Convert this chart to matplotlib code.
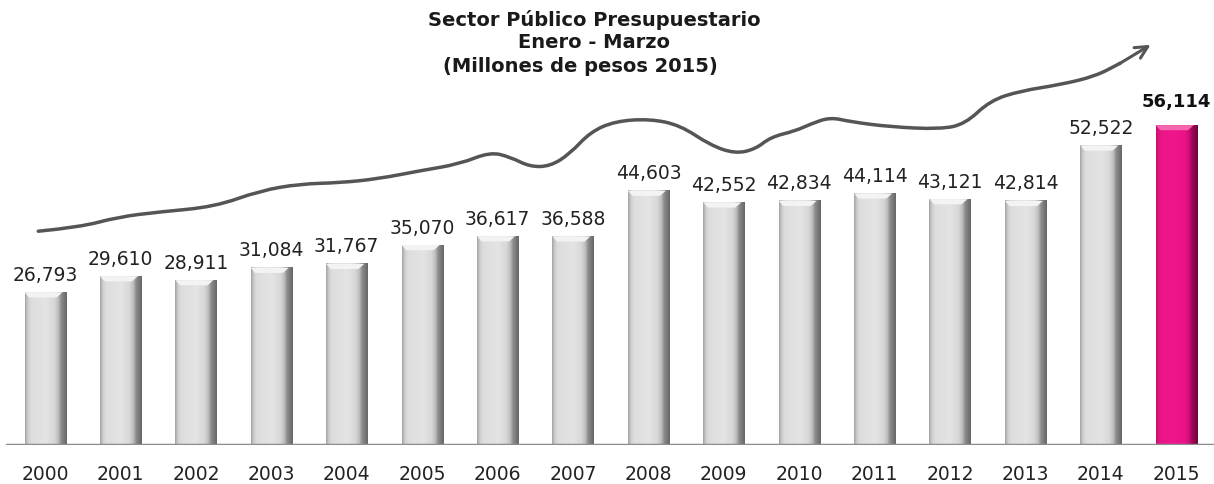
import numpy as np
import matplotlib.pyplot as plt
from matplotlib.colors import LinearSegmentedColormap
from matplotlib.path import Path
from matplotlib.patches import PathPatch

#------------------------------------------------------------------------------
# Data
#------------------------------------------------------------------------------

years = ['2000', '2001', '2002', '2003', '2004', '2005', '2006', '2007',
         '2008', '2009', '2010', '2011', '2012', '2013', '2014', '2015']
values = [26793, 29610, 28911, 31084, 31767, 35070, 36617, 36588,
          44603, 42552, 42834, 44114, 43121, 42814, 52522, 56114]

# decorative trend curve (x in bar index, y in millions)
trend_x = [-0.09, 0.46, 0.97, 1.53, 2.25, 2.85, 3.38, 3.91, 4.42, 4.97, 5.50,
           5.90, 6.17, 6.43, 6.70, 6.96, 7.23, 7.56, 8.02, 8.42, 8.82, 9.15,
           9.42, 9.62, 9.95, 10.15, 10.41, 10.68, 11.21, 11.87, 12.20, 12.53,
           12.93, 13.46, 13.93, 14.26]
trend_y = [37500, 38200, 40000, 40900, 41800, 44600, 45800, 46000, 46700,
           48100, 49300, 51400, 50500, 48800, 48900, 51100, 54900, 56800,
           57200, 56100, 52600, 51100, 51900, 54000, 55100, 56300, 57500,
           56700, 55800, 55400, 56300, 60400, 62100, 63200, 64700, 67000]
arrow_tip = (14.66, 70200)

#------------------------------------------------------------------------------
# Plot
#------------------------------------------------------------------------------

plt.rcParams['font.family'] = ['DejaVu Sans']

fig = plt.figure(figsize=(12.14, 4.85), dpi=100)
ax = fig.add_axes([0.005, 0.0804, 0.995, 0.8816])
ax.set_xlim(-0.517, 15.50)
ax.set_ylim(0, 75000)
ax.axis('off')

w = 0.545
gray = LinearSegmentedColormap.from_list('g', [
    (0.0, '#a4a4a4'), (0.07, '#cfcfcf'), (0.14, '#dddddd'), (0.5, '#e4e4e4'),
    (0.7, '#d8d8d8'), (0.8, '#bdbdbd'), (0.86, '#8e8e8e'), (1.0, '#666666')])
pink = LinearSegmentedColormap.from_list('p', [
    (0.0, '#c4106f'), (0.07, '#e41285'), (0.14, '#ee1489'), (0.5, '#f0148b'),
    (0.7, '#e81387'), (0.8, '#c80f74'), (0.86, '#9c0a58'), (1.0, '#6a0640')])
grad = np.linspace(0, 1, 128).reshape(1, -1)

for i, v in enumerate(values):
    last = i == len(values) - 1
    cm = pink if last else gray
    ax.imshow(grad, cmap=cm, aspect='auto', extent=(i - w/2, i + w/2, 0, v),
              interpolation='bilinear', zorder=2)
    # top bevel highlight
    hl = '#f3f3f3' if not last else '#f466ae'
    ax.fill([i - w/2, i - w/2 + 0.06, i + w/2 - 0.12, i + w/2 - 0.04],
            [v, v - 900, v - 900, v], color=hl, lw=0, zorder=3)
    lab = f'{v:,}'
    if last:
        ax.text(i, v + 2600, lab, ha='center', va='bottom', fontsize=13,
                fontweight='bold', color='#111111')
    else:
        ax.text(i, v + 1500, lab, ha='center', va='bottom', fontsize=13.5,
                color='#222222')
    ax.text(i, -3300, years[i], ha='center', va='top', fontsize=13.5,
            color='#222222', clip_on=False)

ax.axhline(0, color='#8c8c8c', lw=2.5, zorder=4)

# smooth trend curve through midpoints of the read points
pts = list(zip(trend_x, trend_y))
verts = [pts[0]]
codes = [Path.MOVETO]
for k in range(1, len(pts) - 1):
    mid = ((pts[k][0] + pts[k+1][0]) / 2, (pts[k][1] + pts[k+1][1]) / 2)
    verts += [pts[k], mid]
    codes += [Path.CURVE3, Path.CURVE3]
verts.append(pts[-1])
codes.append(Path.LINETO)
ax.add_patch(PathPatch(Path(verts, codes), fill=False, edgecolor='#555555',
                       lw=2.5, capstyle='round', zorder=1))
ax.annotate('', xy=arrow_tip, xytext=pts[-1],
            arrowprops=dict(arrowstyle='->', color='#555555', lw=2.2,
                            mutation_scale=22, shrinkA=0, shrinkB=0))

title_kw = dict(ha='center', va='center', fontsize=14, fontweight='bold',
                color='#1a1a1a')
fig.text(594 / 1214, 1 - 20 / 485, 'Sector Público Presupuestario', **title_kw)
fig.text(594 / 1214, 1 - 43 / 485, 'Enero - Marzo', **title_kw)
fig.text(580 / 1214, 1 - 67 / 485, '(Millones de pesos 2015)', **title_kw)

plt.savefig('out.png', dpi=100)
